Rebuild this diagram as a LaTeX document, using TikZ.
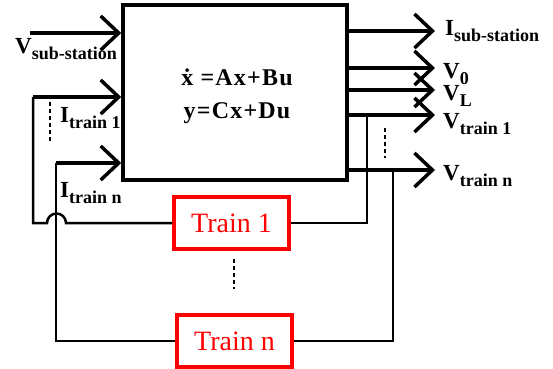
\documentclass[tikz,border=0pt]{standalone}
\usepackage{fontspec}
\setmainfont{Liberation Serif}
\newfontfamily\eqnfont[LetterSpace=5]{Liberation Serif}
\usetikzlibrary{arrows.meta,positioning}
\usepackage{xcolor}
\definecolor{trred}{RGB}{255,0,0}
\tikzset{
    sysblock/.style={
        draw,line width=3.5pt,minimum width=224pt,minimum height=175pt,
        inner sep=0pt
    },
    trainbox/.style={
        draw=trred,line width=3.5pt,minimum width=115pt,minimum height=52pt,
        inner sep=0pt,text=trred,font=\fontsize{28}{28}\selectfont
    },
    sigarrow/.style={
        -{Straight Barb[length=18pt,width=34pt]},line width=3.5pt
    },
    wire/.style={line width=2.5pt},
    dotline/.style={line width=2.5pt,dash pattern=on 4pt off 3pt},
    siglabel/.style={anchor=base west,inner sep=0pt}
}
\newcommand{\sig}[2]{{\fontsize{23}{23}\selectfont\bfseries #1\raisebox{-6pt}{\fontsize{18}{18}\selectfont #2}}}

\begin{document}
\begin{tikzpicture}[x=1pt,y=-1pt]
\useasboundingbox (0,0) rectangle (553,368);

\node[sysblock] (sys) at (235,92.5) {};
\node[
align=center,inner sep=0pt,
font=\eqnfont\bfseries\fontsize{24}{33}\selectfont
]
(eqn) at (237,96)
{\.{x} =Ax+Bu\\y=Cx+Du};

\node[trainbox] (tone) at (231.5,223) {Train 1};
\node[trainbox] (tn) at (234.5,341) {Train n};

% inputs
\coordinate (vsub) at (30,33);
\coordinate (itone) at (33,97);
\coordinate (itn) at (56,163);
\draw[sigarrow] (vsub) -- (vsub -| sys.west);
\draw[sigarrow] (itone) -- (itone -| sys.west);
\draw[sigarrow] (itn) -- (itn -| sys.west);

% outputs
\foreach \nm/\yy in {isub/31,vzero/68,vl/90,vtone/115,vtn/170}{
    \coordinate (\nm) at (435,\yy);
    \draw[sigarrow] (\nm -| sys.east) -- (\nm);
}

% feedback through the trains
\coordinate (tapone) at (367,115);
\coordinate (taptn) at (393,170);
\draw[wire] (tone.east) -| (tapone);
\draw[wire] (tn.east) -| (taptn);
\draw[wire] (tone.west) -- (66,223)
    arc[start angle=0,end angle=180,radius=9.5pt] -- (33,223) -- (itone);
\draw[wire] (tn.west) -| (itn);

\draw[dotline] (50,102) -- (50,141);
\draw[dotline] (385,128) -- (385,158);
\draw[dotline] (234,259) -- (234,289);

% labels
\node[siglabel] (lvsub) at (15,53) {\sig{V}{sub-station}};
\node[siglabel] (litone) at (60,122) {\sig{I}{train 1}};
\node[siglabel] (litn) at (60,197) {\sig{I}{train n}};
\node[siglabel] (lisub) at (445,35) {\sig{I}{sub-station}};
\node[siglabel] (lvzero) at (443,78) {\sig{V}{0}};
\node[siglabel] (lvl) at (443,100) {\sig{V}{L}};
\node[siglabel] (lvtone) at (443,128) {\sig{V}{train 1}};
\node[siglabel] (lvtn) at (443,180) {\sig{V}{train n}};

\end{tikzpicture}
\end{document}
